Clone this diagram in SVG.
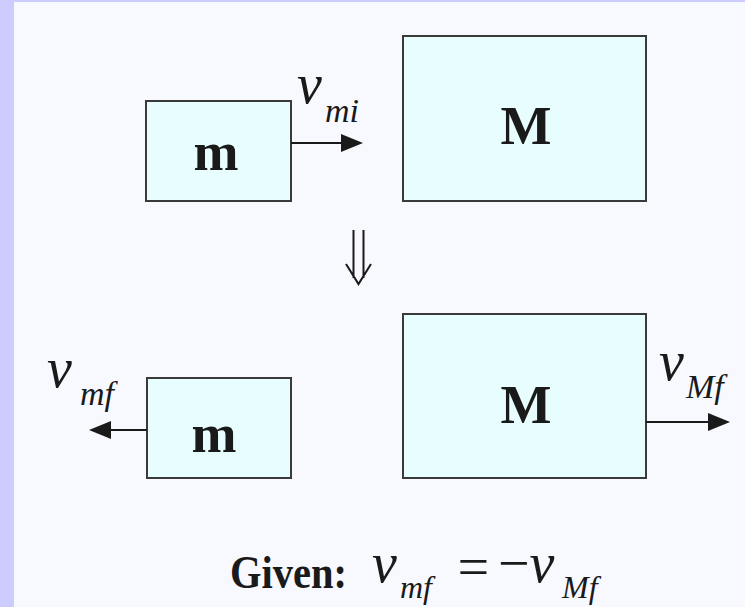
<svg xmlns="http://www.w3.org/2000/svg" width="745" height="607" viewBox="0 0 745 607">
<style>
.box{fill:#e8fefe;stroke:#3a3a3a;stroke-width:2}
.lbl{font-family:"Liberation Serif",serif;font-weight:bold;fill:#1a1a1a}
.var{font-family:"Liberation Serif",serif;font-style:italic;fill:#1a1a1a}
.ln{stroke:#1a1a1a;stroke-width:2;fill:none}
.hd{fill:#1a1a1a}
</style>
<rect x="0" y="0" width="745" height="607" fill="#f8f9ff"/>
<rect x="0" y="0" width="14" height="607" fill="#ccccff"/>
<rect x="0" y="0" width="745" height="2" fill="#ccccff"/>
<g id="m-initial">
<rect class="box" x="146" y="101" width="145" height="100"/>
<text class="lbl" x="216" y="170" font-size="54" text-anchor="middle">m</text>
</g>
<g id="M-initial">
<rect class="box" x="403" y="36" width="243" height="165"/>
<text class="lbl" x="526" y="144" font-size="54" text-anchor="middle">M</text>
</g>
<g id="m-final">
<rect class="box" x="147" y="378" width="144" height="100"/>
<text class="lbl" x="214" y="452" font-size="54" text-anchor="middle">m</text>
</g>
<g id="M-final">
<rect class="box" x="403" y="314" width="243" height="164"/>
<text class="lbl" x="526" y="423" font-size="54" text-anchor="middle">M</text>
</g>
<g id="connectors">
<line class="ln" x1="291" y1="143" x2="345" y2="143"/>
<polygon class="hd" points="341,134 363,143 341,152"/>
<line class="ln" x1="147" y1="430" x2="106" y2="430"/>
<polygon class="hd" points="111,421 89,430 111,439"/>
<line class="ln" x1="646" y1="422" x2="712" y2="422"/>
<polygon class="hd" points="708,413 730,422 708,431"/>
<path class="ln" stroke-width="3.5" d="M353.5,230 V278 M363.5,230 V278 M346,264 L358.5,284 L371,264"/>
</g>
<g id="labels">
<text class="var" x="297" y="103" font-size="56">v</text>
<text class="var" x="325" y="122" font-size="34">mi</text>
<text class="var" x="47" y="387" font-size="56">v</text>
<text class="var" x="80" y="405" font-size="34">mf</text>
<text class="var" x="659" y="380" font-size="56">v</text>
<text class="var" x="686" y="398" font-size="34">Mf</text>
</g>
<g id="given">
<text class="lbl" x="230" y="588" font-size="46" textLength="117" lengthAdjust="spacingAndGlyphs">Given:</text>
<text class="var" x="372" y="582" font-size="56">v</text>
<text class="var" x="400" y="598" font-size="32">mf</text>
<text class="var" x="454" y="586" font-size="56" font-style="normal">=</text>
<text class="var" x="498" y="582" font-size="56"><tspan font-style="normal">−</tspan>v</text>
<text class="var" x="562" y="598" font-size="32">Mf</text>
</g>
</svg>
